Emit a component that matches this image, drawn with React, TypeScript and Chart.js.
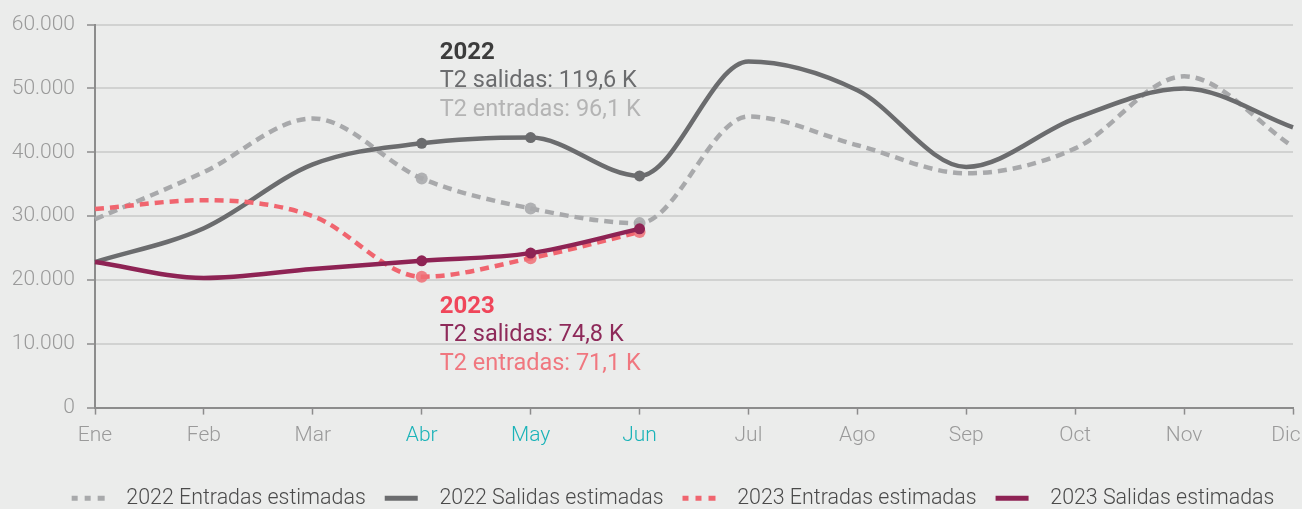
import React, { useEffect, useRef } from "react";
import { Chart, registerables } from "chart.js";

Chart.register(...registerables);

// ---------- data ----------
const months = ["Ene", "Feb", "Mar", "Abr", "May", "Jun", "Jul", "Ago", "Sep", "Oct", "Nov", "Dic"];
const highlightMonths = ["Abr", "May", "Jun"];

const entradas2022 = [29500, 36900, 45300, 35900, 31200, 28900, 45600, 41100, 36700, 40600, 51900, 40900];
const salidas2022 = [22800, 28100, 38100, 41400, 42300, 36300, 54200, 49700, 37700, 45300, 50000, 43900];
const entradas2023 = [31100, 32500, 30000, 20500, 23400, 27500];
const salidas2023 = [22800, 20300, 21700, 23000, 24200, 28000];

const seriesLabels = [
  "2022 Entradas estimadas",
  "2022 Salidas estimadas",
  "2023 Entradas estimadas",
  "2023 Salidas estimadas",
];

const yTicks = [0, 10000, 20000, 30000, 40000, 50000, 60000];

const note2022 = ["2022", "T2 salidas: 119,6 K", "T2 entradas: 96,1 K"];
const note2023 = ["2023", "T2 salidas: 74,8 K", "T2 entradas: 71,1 K"];
const note2022Anchor = 55600;
const note2023Anchor = 15800;

// ---------- styles ----------
const BG = "#ebeceb";
const GRID = "#d1d2d1";
const AXIS = "#8c8c8c";
const TICK_TEXT = "#9a9a9a";
const TEAL = "#1ab3b8";
const C_E22 = "#a8a9ab";
const C_S22 = "#6b6c6e";
const C_E23 = "#f0656f";
const C_S23 = "#8e2354";
const FONT = "Roboto";

const noteColors2022 = ["#3c3c3c", "#6b6c6e", "#b4b4b4"];
const noteColors2023 = ["#f0465a", "#8e2a5a", "#f0777f"];

const fmt = (v: number) => String(v).replace(/\B(?=(\d{3})+(?!\d))/g, ".");

const radii = (n: number, r: number) =>
  months.slice(0, n).map((m) => (highlightMonths.includes(m) ? r : 0));

const notesPlugin = {
  id: "quarterNotes",
  afterLayout(chart: any) {
    // the legend row sits a little right of the canvas centre
    const lg = chart.legend;
    if (lg) lg.left = 44;
  },
  beforeDraw(chart: any) {
    // keep the last month label inside the canvas edge
    const x = chart.scales.x;
    const items = x.getLabelItems(chart.chartArea);
    const last = items[items.length - 1];
    if (last && !last.__shifted) {
      last.options.translation[0] -= 7;
      last.__shifted = true;
    }
  },
  afterDatasetsDraw(chart: any) {
    const { ctx, scales } = chart;
    const x = scales.x;
    const y = scales.y;
    const left = x.getPixelForValue(months.indexOf("Abr")) + 18;
    const drawBlock = (lines: string[], colors: string[], anchor: number) => {
      const top = y.getPixelForValue(anchor);
      ctx.save();
      ctx.textAlign = "left";
      ctx.textBaseline = "middle";
      lines.forEach((t, i) => {
        ctx.font = `${i === 0 ? "bold 24px" : "normal 23.5px"} ${FONT}`;
        ctx.fillStyle = colors[i];
        ctx.fillText(t, left, top + i * 28.8);
      });
      ctx.restore();
    };
    drawBlock(note2022, noteColors2022, note2022Anchor);
    drawBlock(note2023, noteColors2023, note2023Anchor);
  },
};

export default function App() {
  const ref = useRef<HTMLCanvasElement | null>(null);

  useEffect(() => {
    document.body.style.margin = "0";
    document.body.style.background = BG;
    document.body.style.overflow = "hidden";
    const canvas = ref.current;
    if (!canvas) return;

    const dashed = [9, 6];
    const common = {
      borderWidth: 4.5,
      cubicInterpolationMode: "monotone",
      pointBorderWidth: 0,
    };
    const chart = new Chart(canvas, {
      type: "line",
      data: {
        labels: months,
        datasets: [
          {
            ...common,
            label: seriesLabels[0],
            data: entradas2022,
            borderColor: C_E22,
            backgroundColor: C_E22,
            borderDash: dashed,
            pointRadius: radii(12, 6),
            pointBackgroundColor: "rgba(170,171,173,0.9)",
            order: 3,
          },
          {
            ...common,
            label: seriesLabels[1],
            data: salidas2022,
            borderColor: C_S22,
            backgroundColor: C_S22,
            pointRadius: radii(12, 5.5),
            pointBackgroundColor: C_S22,
            order: 2,
          },
          {
            ...common,
            label: seriesLabels[2],
            data: entradas2023,
            borderColor: C_E23,
            backgroundColor: C_E23,
            borderDash: dashed,
            pointRadius: radii(6, 6),
            pointBackgroundColor: "rgba(240,110,118,0.85)",
            order: 1,
          },
          {
            ...common,
            label: seriesLabels[3],
            data: salidas2023,
            borderColor: C_S23,
            backgroundColor: C_S23,
            pointRadius: radii(6, 5.5),
            pointBackgroundColor: C_S23,
            order: 0,
          },
        ],
      },
      options: {
        responsive: false,
        animation: false,
        devicePixelRatio: 1,
        layout: { padding: { top: 24, left: 0, right: 0, bottom: -10 } },
        scales: {
          x: {
            grid: {
              display: true,
              drawOnChartArea: false,
              drawTicks: true,
              tickLength: 7,
              tickColor: AXIS,
              tickWidth: 1.5,
            },
            border: { display: true, color: AXIS, width: 2 },
            ticks: {
              padding: 9,
              maxRotation: 0,
              autoSkip: false,
              color: (c: any) => (highlightMonths.includes(months[c.index]) ? TEAL : TICK_TEXT),
              font: { family: FONT, size: 21, weight: "300" },
            },
            afterFit: (s: any) => {
              s.paddingRight = 9;
              s.paddingLeft = 0;
              s.height = 61;
            },
          },
          y: {
            min: 0,
            max: 60000,
            afterBuildTicks: (s: any) => {
              s.ticks = yTicks.map((v) => ({ value: v }));
            },
            grid: {
              color: (c: any) => (c.tick && c.tick.value === 0 ? "rgba(0,0,0,0)" : GRID),
              lineWidth: 2,
              drawTicks: true,
              tickLength: 8,
              tickColor: AXIS,
              tickWidth: 1.5,
            },
            border: { display: true, color: AXIS, width: 2 },
            ticks: {
              padding: 12,
              color: TICK_TEXT,
              font: { family: FONT, size: 21, weight: "300" },
              callback: (v: any) => fmt(Number(v)),
            },
            afterFit: (s: any) => {
              s.width = 95;
            },
          },
        },
        plugins: {
          tooltip: { enabled: false },
          legend: {
            position: "bottom",
            align: "center",
            labels: {
              usePointStyle: true,
              pointStyle: "line",
              pointStyleWidth: 44,
              boxHeight: 21,
              padding: 19,
              color: "#4a4a4a",
              font: { family: FONT, size: 21.4, weight: "300" },
              sort: (a: any, b: any) => a.datasetIndex - b.datasetIndex,
              generateLabels: (chart: any) => {
                const base = Chart.defaults.plugins.legend.labels.generateLabels(chart);
                return base.map((item: any) => {
                  const isDashed = item.datasetIndex === 0 || item.datasetIndex === 2;
                  // 44px sample path: short line then a gap before the text
                  return {
                    ...item,
                    lineWidth: 5,
                    lineDash: isDashed ? [6, 7, 6, 7, 7, 11] : [33, 11],
                    lineDashOffset: 0,
                    lineCap: "butt",
                  };
                });
              },
            },
          },
        },
      },
      plugins: [notesPlugin],
    } as any);

    return () => chart.destroy();
  }, []);

  return (
    <div style={{ width: 1302, height: 509, background: BG, overflow: "hidden" }}>
      <canvas ref={ref} width={1302} height={509} style={{ display: "block" }} />
    </div>
  );
}
